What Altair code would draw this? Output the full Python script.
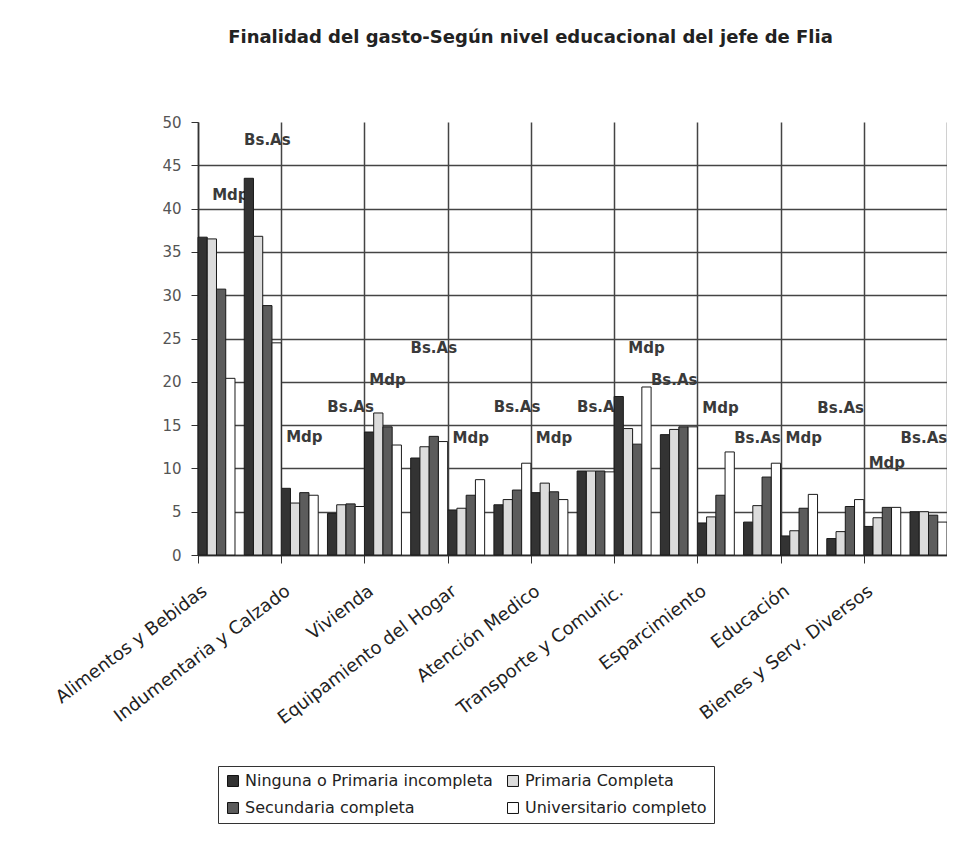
import altair as alt
import pandas as pd

categorias = ["Alimentos y Bebidas", "Indumentaria y Calzado", "Vivienda",
              "Equipamiento del Hogar", "Atención Medico", "Transporte y Comunic.",
              "Esparcimiento", "Educación", "Bienes y Serv. Diversos"]
niveles = ["Ninguna o Primaria incompleta", "Primaria Completa",
           "Secundaria completa", "Universitario completo"]
ciudades = ["Mdp", "Bs.As"]

mdp_ninguna = [36.7, 7.7, 14.2, 5.2, 7.2, 18.3, 3.7, 2.2, 3.3]
mdp_primaria = [36.5, 6.0, 16.4, 5.4, 8.3, 14.6, 4.4, 2.8, 4.3]
mdp_secundaria = [30.7, 7.2, 14.8, 6.9, 7.3, 12.8, 6.9, 5.4, 5.5]
mdp_universitario = [20.4, 6.9, 12.7, 8.7, 6.4, 19.4, 11.9, 7.0, 5.5]
bsas_ninguna = [43.5, 4.8, 11.2, 5.8, 9.7, 13.9, 3.8, 1.9, 5.0]
bsas_primaria = [36.8, 5.8, 12.5, 6.4, 9.7, 14.5, 5.7, 2.7, 5.0]
bsas_secundaria = [28.8, 5.9, 13.7, 7.5, 9.7, 14.8, 9.0, 5.6, 4.6]
bsas_universitario = [24.5, 5.6, 13.1, 10.6, 9.6, 14.8, 10.6, 6.4, 3.8]

# heights at which the "Mdp" / "Bs.As" labels sit, and the bar they sit over
etiqueta_mdp = [41.6, 13.6, 20.2, 13.5, 13.5, 23.9, 17.0, 13.5, 10.6]
etiqueta_bsas = [47.9, 17.1, 23.9, 17.1, 17.1, 20.2, 13.5, 17.0, 13.5]
slot_mdp = ["Mdp-3", "Mdp-2", "Mdp-2", "Mdp-2", "Mdp-2", "Mdp-3", "Mdp-2", "Mdp-2", "Mdp-2"]
slot_bsas = ["Bs.As-2", "Bs.As-2", "Bs.As-2", "Bs.As-2", "Bs.As-2", "Bs.As-1", "Bs.As-1",
             "Bs.As-1", "Bs.As-1"]

colores = ["#333333", "#dcdcdc", "#5c5c5c", "#ffffff"]

series = {
    "Mdp": [mdp_ninguna, mdp_primaria, mdp_secundaria, mdp_universitario],
    "Bs.As": [bsas_ninguna, bsas_primaria, bsas_secundaria, bsas_universitario],
}
slots = ["Mdp-0", "Mdp-1", "Mdp-2", "Mdp-3", "gap",
         "Bs.As-0", "Bs.As-1", "Bs.As-2", "Bs.As-3"]

rows = []
for ciudad in ciudades:
    for j, nivel in enumerate(niveles):
        for i, cat in enumerate(categorias):
            rows.append({"categoria": cat, "nivel": nivel, "ciudad": ciudad,
                         "slot": f"{ciudad}-{j}", "valor": series[ciudad][j][i]})
df = pd.DataFrame(rows)

lab_rows = []
for i, cat in enumerate(categorias):
    lab_rows.append({"categoria": cat, "slot": slot_mdp[i], "texto": "Mdp", "valor": etiqueta_mdp[i]})
    lab_rows.append({"categoria": cat, "slot": slot_bsas[i], "texto": "Bs.As", "valor": etiqueta_bsas[i]})
df_lab = pd.DataFrame(lab_rows)

x_enc = alt.X("categoria:N", sort=categorias,
              scale=alt.Scale(domain=categorias, paddingInner=0, paddingOuter=0),
              axis=alt.Axis(title=None, labelAngle=-37, labelAlign="right",
                            labelBaseline="middle", labelOffset=-35, labelPadding=26,
                            labelFont="DejaVu Sans", labelFontSize=18, labelColor="#222",
                            labelLimit=400, labelOverlap=False,
                            tickBand="extent", tickSize=8, tickColor="#333",
                            domainColor="#333", domainWidth=1.5,
                            grid=True, gridColor="#444", gridWidth=1.5))
xo_enc = alt.XOffset("slot:N", scale=alt.Scale(domain=slots, paddingInner=0, paddingOuter=0))
y_enc = alt.Y("valor:Q", scale=alt.Scale(domain=[0, 50], nice=False),
              axis=alt.Axis(title=None, values=list(range(0, 51, 5)),
                            labelFont="DejaVu Sans", labelFontSize=15, labelColor="#555",
                            tickSize=7, tickColor="#333", labelPadding=10,
                            domainColor="#333", domainWidth=1.5,
                            grid=True, gridColor="#444", gridWidth=1.5,
                            gridOpacity={"condition": {"test": "datum.value == 50", "value": 0}, "value": 1}))

labels = alt.Chart(df_lab).mark_text(
    font="DejaVu Sans", fontWeight="bold", fontSize=15, color="#3a3a3a"
).encode(x=x_enc, xOffset=xo_enc, y=y_enc, text="texto:N")

bars = alt.Chart(df).mark_bar(stroke="#1a1a1a", strokeWidth=1).encode(
    x=x_enc, xOffset=xo_enc, y=y_enc,
    color=alt.Color("nivel:N", scale=alt.Scale(domain=niveles, range=colores),
                    legend=alt.Legend(title=None, orient="none", legendX=20, legendY=644,
                                      direction="horizontal", columns=2,
                                      symbolType="square", symbolSize=120,
                                      symbolStrokeColor="#111", symbolStrokeWidth=1,
                                      labelFont="DejaVu Sans", labelFontSize=16,
                                      labelColor="#222", labelLimit=400, labelOffset=4,
                                      strokeColor="#333", fillColor="white",
                                      padding=7, rowPadding=11, columnPadding=12))
)

chart = alt.layer(labels, bars).properties(
    width=749, height=433,
    autosize=alt.AutoSizeParams(type="none"),
    padding={"left": 190, "top": 114, "right": 0, "bottom": 275},
    title=alt.Title("Finalidad del gasto-Según nivel educacional del jefe de Flia",
                    font="DejaVu Sans", fontSize=18, fontWeight="bold", color="#222",
                    offset=68, dx=-42, anchor="middle"),
    background="white",
).configure_view(strokeWidth=0)

chart.save("out.html", embed_options={"renderer": "svg", "actions": False})
